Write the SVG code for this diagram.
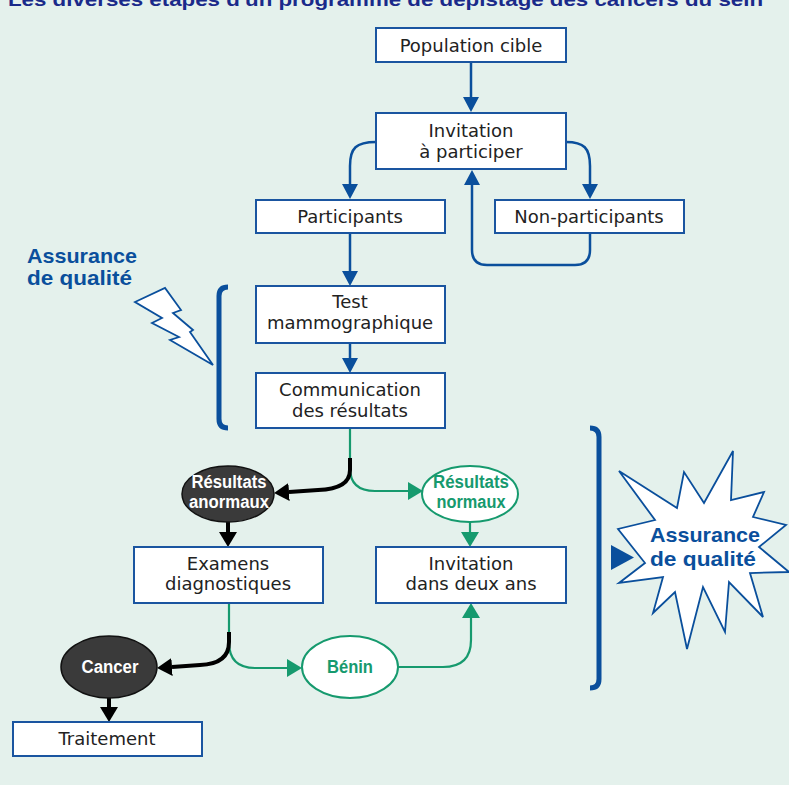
<svg xmlns="http://www.w3.org/2000/svg" width="789" height="785" viewBox="0 0 789 785">
<defs>
<style>
.box{fill:#fff;stroke:#1a55a0;stroke-width:2}
.bt{font-family:"DejaVu Sans","Liberation Sans",sans-serif;font-size:18px;fill:#222;text-anchor:middle}
.cb{fill:none;stroke:#0a4f9c;stroke-width:2.5}
.cg{fill:none;stroke:#169a6e;stroke-width:2.2}
.ck{fill:none;stroke:#000;stroke-width:4}
.el{font-family:"Liberation Sans",Arial,sans-serif;font-weight:bold;font-size:18px;text-anchor:middle}
.aq{font-family:"Liberation Sans",Arial,sans-serif;font-weight:bold;font-size:21px;fill:#0a4f9c}
</style>
<marker id="ab" markerUnits="userSpaceOnUse" markerWidth="16" markerHeight="16" refX="0" refY="8" orient="auto"><path d="M0,0 L15,8 L0,16 z" fill="#0a4f9c"/></marker>
<marker id="ag" markerUnits="userSpaceOnUse" markerWidth="16" markerHeight="18" refX="0" refY="9" orient="auto"><path d="M0,0 L15,9 L0,18 z" fill="#169a6e"/></marker>
<marker id="ak" markerUnits="userSpaceOnUse" markerWidth="16" markerHeight="18" refX="0" refY="9" orient="auto"><path d="M0,0 L15,9 L0,18 z" fill="#000"/></marker>
</defs>
<rect width="789" height="785" fill="#e4f1ec"/>
<text x="8" y="6" font-family="Liberation Sans,Arial,sans-serif" font-weight="bold" font-size="19" fill="#1a2a8a" textLength="755" lengthAdjust="spacingAndGlyphs">Les diverses étapes d'un programme de dépistage des cancers du sein</text>

<g id="connectors">
<path class="cb" d="M471,62 V97" marker-end="url(#ab)"/>
<path class="cb" d="M376,142 C356,142 350,148 350,166 V184" marker-end="url(#ab)"/>
<path class="cb" d="M566,142 C584,142 590,148 590,166 V184" marker-end="url(#ab)"/>
<path class="cb" d="M590,233 V250 Q590,265 575,265 H487 Q472,265 472,250 V185" marker-end="url(#ab)"/>
<path class="cb" d="M350,233 V271" marker-end="url(#ab)"/>
<path class="cb" d="M350,343 V358" marker-end="url(#ab)"/>
<path class="cg" d="M350,428 V468 Q350,491 375,491 H408" marker-end="url(#ag)"/>
<path class="cg" d="M470,522 V532" marker-end="url(#ag)"/>
<path class="cg" d="M229,603 V642 Q229,668 255,668 H287" marker-end="url(#ag)"/>
<path class="cg" d="M398,667 H443 Q471,667 471,640 V618" marker-end="url(#ag)"/>
<path class="ck" d="M350,458 V470 Q350,489 318,490 L289,492" marker-end="url(#ak)"/>
<path class="ck" d="M228,522 V532" marker-end="url(#ak)"/>
<path class="ck" d="M229,632 V642 Q229,664 200,665 L172,667" marker-end="url(#ak)"/>
<path class="ck" d="M109,698 V707" marker-end="url(#ak)"/>
</g>

<g id="population"><rect class="box" x="376" y="28" width="190" height="34"/><text class="bt" x="471" y="52">Population cible</text></g>
<g id="invitation"><rect class="box" x="376" y="113" width="190" height="56"/><text class="bt" x="471" y="137">Invitation</text><text class="bt" x="471" y="158">à participer</text></g>
<g id="participants"><rect class="box" x="256" y="200" width="189" height="33"/><text class="bt" x="350" y="223">Participants</text></g>
<g id="nonparticipants"><rect class="box" x="495" y="200" width="189" height="33"/><text class="bt" x="589" y="223">Non-participants</text></g>
<g id="test"><rect class="box" x="256" y="286" width="189" height="57"/><text class="bt" x="350" y="308">Test</text><text class="bt" x="350" y="329">mammographique</text></g>
<g id="communication"><rect class="box" x="256" y="373" width="189" height="55"/><text class="bt" x="350" y="396">Communication</text><text class="bt" x="350" y="417">des résultats</text></g>
<g id="anormaux"><ellipse cx="228" cy="494" rx="46" ry="28" fill="#3a3a3a" stroke="#111" stroke-width="1.5"/><text class="el" x="229" y="488" fill="#fff" textLength="75" lengthAdjust="spacingAndGlyphs">Résultats</text><text class="el" x="229" y="508" fill="#fff" textLength="80" lengthAdjust="spacingAndGlyphs">anormaux</text></g>
<g id="normaux"><ellipse cx="470" cy="494" rx="48" ry="28" fill="#fff" stroke="#169a6e" stroke-width="2"/><text class="el" x="471" y="488" fill="#169a6e" textLength="76" lengthAdjust="spacingAndGlyphs">Résultats</text><text class="el" x="471" y="508" fill="#169a6e" textLength="69" lengthAdjust="spacingAndGlyphs">normaux</text></g>
<g id="examens"><rect class="box" x="134" y="547" width="189" height="56"/><text class="bt" x="228" y="570">Examens</text><text class="bt" x="228" y="590">diagnostiques</text></g>
<g id="invitation2"><rect class="box" x="376" y="547" width="190" height="56"/><text class="bt" x="471" y="570">Invitation</text><text class="bt" x="471" y="590">dans deux ans</text></g>
<g id="cancer"><ellipse cx="109" cy="667" rx="48" ry="31" fill="#3a3a3a" stroke="#111" stroke-width="1.5"/><text class="el" x="110" y="673" fill="#fff" textLength="57" lengthAdjust="spacingAndGlyphs">Cancer</text></g>
<g id="benin"><ellipse cx="350" cy="667" rx="48" ry="31" fill="#fff" stroke="#169a6e" stroke-width="2"/><text class="el" x="350" y="673" fill="#169a6e" textLength="46" lengthAdjust="spacingAndGlyphs">Bénin</text></g>
<g id="traitement"><rect class="box" x="13" y="722" width="189" height="34"/><text class="bt" x="107" y="745">Traitement</text></g>

<g id="qa-left">
<text class="aq" x="27" y="263" textLength="110" lengthAdjust="spacingAndGlyphs">Assurance</text>
<text class="aq" x="27" y="285" textLength="105" lengthAdjust="spacingAndGlyphs">de qualité</text>
<polygon points="135,302 165,288 181,310 173,313 193,330 190,332 213,365 170,340 179,337 152,323 162,318" fill="#fff" stroke="#0a4f9c" stroke-width="1.8"/>
<path d="M228,287 Q219,287 219,296 V419 Q219,428 228,428" fill="none" stroke="#0a4f9c" stroke-width="5"/>
</g>

<g id="qa-right">
<path d="M590,428 Q599,428 599,437 V679 Q599,688 590,688" fill="none" stroke="#0a4f9c" stroke-width="5"/>
<polygon points="611,545 611,570 634,557.5" fill="#0a4f9c"/>
<polygon points="619,471 677,508 684,472 704,503 733,451 731,500 764,492 753,517 786,525 759,547 789,572 750,573 763,617 729,582 725,632 703,587 687,649 675,592 653,613 663,577 619,583 645,563 618,529 655,520" fill="#fff" stroke="#0a4f9c" stroke-width="1.8"/>
<text class="aq" x="650" y="542" textLength="110" lengthAdjust="spacingAndGlyphs">Assurance</text>
<text class="aq" x="650" y="566" textLength="106" lengthAdjust="spacingAndGlyphs">de qualité</text>
</g>
</svg>
